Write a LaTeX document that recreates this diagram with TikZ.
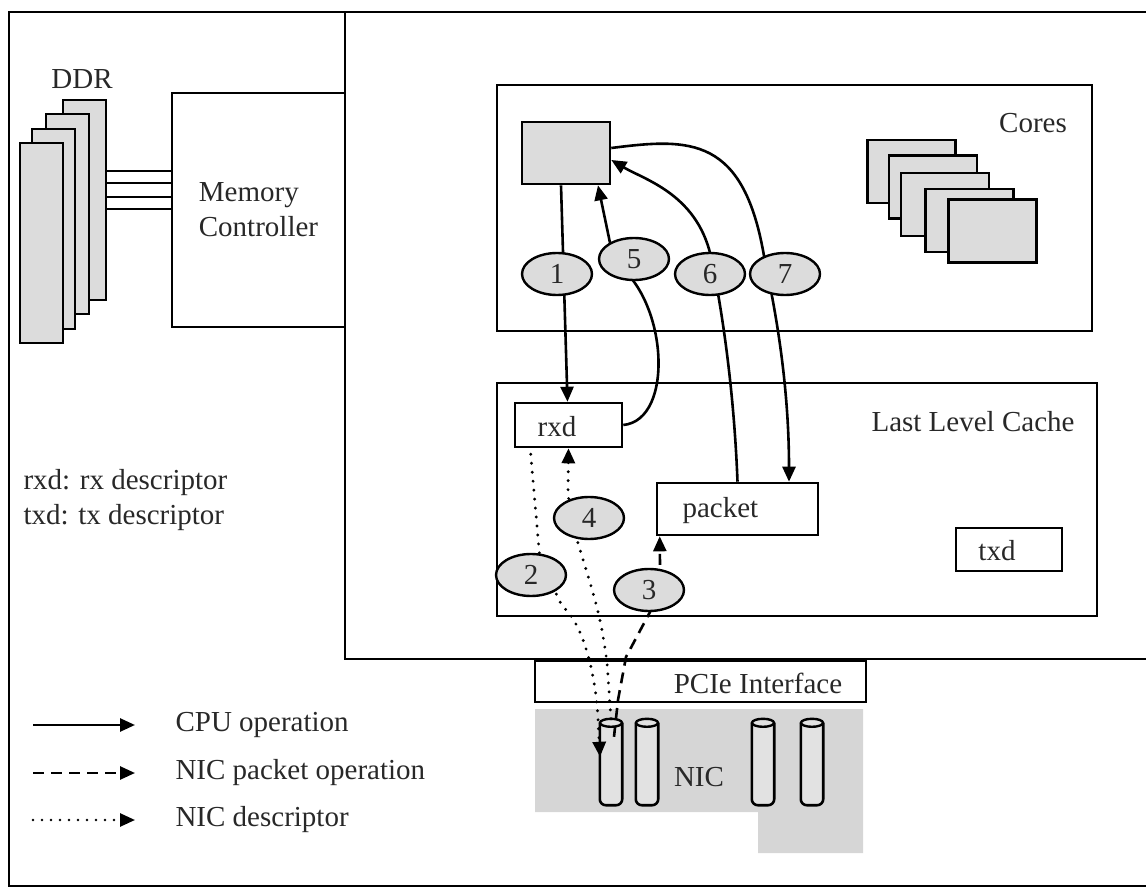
\documentclass[tikz,border=0pt]{standalone}
\usepackage{fontspec}
\setmainfont{Liberation Serif}
\usetikzlibrary{arrows.meta,shapes.geometric}
\definecolor{boxgray}{RGB}{220,220,220}
\definecolor{nicgray}{RGB}{214,214,214}
\definecolor{cylgray}{RGB}{226,226,226}
\definecolor{ink}{RGB}{40,40,40}
\pgfdeclarelayer{bgzero}
\pgfdeclarelayer{bgone}
\pgfsetlayers{bgzero,bgone,main}
\tikzset{
  frameline/.style={line width=2.6pt},
  box/.style={draw, line width=2.6pt, inner sep=0pt},
  gbox/.style={box, fill=boxgray},
  num/.style={ellipse, draw, line width=2.4pt, fill=boxgray, minimum width=70pt, minimum height=42pt, inner sep=0pt},
  tipend/.style={-{Triangle[length=15pt,width=13pt]}},
  cpu/.style={line width=2.6pt, tipend},
  pkt/.style={line width=2.6pt, dash pattern=on 11pt off 7pt, tipend},
  desc/.style={line width=3.2pt, dash pattern=on 0pt off 9pt, line cap=round, tipend},
  cylbody/.style={draw, line width=2.6pt, fill=cylgray, rounded corners=6pt},
}
\begin{document}
\begin{tikzpicture}[x=1pt,y=-1pt,font=\fontsize{29}{35}\selectfont,text=ink]
\useasboundingbox (0,0) rectangle (1146,890);
% frames
\draw[frameline] (1146,12) -- (9,12) -- (9,886) -- (1146,886);
\draw[frameline] (345,12) -- (345,659) -- (1146,659);
% memory controller and DDR
\node[box, minimum width=173pt, minimum height=234pt, align=left] (mc) at (258.5,210) {Memory\\Controller};
\node[gbox, line width=2pt, minimum width=43pt, minimum height=200pt] (d4) at (84.5,200) {};
\node[gbox, line width=2pt, minimum width=43pt, minimum height=200pt] (d3) at (67,214) {};
\node[gbox, line width=2pt, minimum width=43pt, minimum height=200pt] (d2) at (53,229.5) {};
\node[gbox, line width=2pt, minimum width=43pt, minimum height=200pt] (d1) at (41.5,243.5) {};
\node (ddrlab) at (82,79) {DDR};
\foreach \yy in {171,183,197,209}{
  \draw[line width=2.6pt] (d4.east |- 0,\yy) -- (mc.west |- 0,\yy);
}
\node[anchor=west, align=left] (abbr) at (20,500) {rxd: rx descriptor\\txd: tx descriptor};
% cores
\node[box, minimum width=595pt, minimum height=246pt] (cores) at (794.5,208) {};
\node (coreslab) at (1033,123) {Cores};
\node[gbox, minimum width=88pt, minimum height=62pt] (core) at (566,153) {};
\node[gbox, minimum width=88pt, minimum height=63pt] (s1) at (911.5,171.5) {};
\node[gbox, minimum width=88pt, minimum height=63pt] (s2) at (933,187) {};
\node[gbox, minimum width=88pt, minimum height=63pt] (s3) at (945,204.5) {};
\node[gbox, minimum width=88pt, minimum height=63pt] (s4) at (969.5,220.5) {};
\node[gbox, minimum width=88pt, minimum height=63pt] (s5) at (992.5,231) {};
% last level cache
\node[box, minimum width=600pt, minimum height=233pt] (llc) at (797,499.5) {};
\node (llclab) at (973,422) {Last Level Cache};
\node[box, minimum width=107pt, minimum height=44pt] (rxd) at (568.5,425) {};
\node (rxdlab) at (557,427) {rxd};
\node[box, minimum width=161pt, minimum height=52pt] (packet) at (737.5,509) {};
\node[anchor=west] (packetlab) at (679,511) {packet};
\node[box, minimum width=106pt, minimum height=43pt] (txd) at (1009,549.5) {};
\node (txdlab) at (997,551) {txd};
% PCIe and NIC
\node[box, minimum width=331pt, minimum height=41pt] (pcie) at (700.5,681.5) {};
\node (pcielab) at (758,683) {PCIe Interface};
\begin{pgfonlayer}{bgzero}
\fill[nicgray] (535,709) -- (863,709) -- (863,853) -- (758,853) -- (758,812) -- (535,812) -- cycle;
\end{pgfonlayer}
\foreach \nm/\cx in {c1/611,c2/647,c3/763,c4/812}{
  \node[minimum width=22pt, minimum height=86pt, inner sep=0pt] (\nm) at (\cx,762) {};
  \begin{pgfonlayer}{bgzero}
  \draw[cylbody] ([yshift=-4pt]\nm.north west) -- (\nm.south west) -- (\nm.south east) -- ([yshift=-4pt]\nm.north east);
  \draw[line width=2.4pt, fill=cylgray] ([yshift=-4pt]\nm.north) ellipse [x radius=11pt, y radius=4pt];
  \end{pgfonlayer}
}
\node (niclab) at (699,777) {NIC};
% numbered ellipses
\node[num] (e1) at (557,274) {1};
\node[num] (e5) at (634,259) {5};
\node[num] (e6) at (710,274) {6};
\node[num] (e7) at (785,274) {7};
\node[num] (e4) at (589,518) {4};
\node[num] (e2) at (531,575) {2};
\node[num] (e3) at (649,590) {3};
% connectors
\begin{pgfonlayer}{bgone}
\draw[cpu] ([xshift=-5pt]core.south) -- ([xshift=-1pt]rxd.north);
\draw[cpu] (rxd.east) .. controls (675,420) and (668,298) .. (614,262) -- ([xshift=32pt]core.south);
\draw[cpu] (packet.north) .. controls (734,390) and (722,310) .. (712,262) .. controls (700,195) and (645,180) .. ([yshift=-7pt]core.east);
\draw[cpu] ([yshift=5pt]core.east) .. controls (690,138) and (745,135) .. (765,262) .. controls (780,330) and (789,400) .. ([xshift=51.5pt]packet.north);
\draw[desc] ([xshift=17pt,yshift=-6pt]rxd.south west) -- (540,560) -- (562,606) .. controls (585,625) and (596,680) .. (598,718) -- ([xshift=-11pt,yshift=-38pt]c1.north);
\draw[desc] (c1.north) -- (607,662) .. controls (600,615) .. (577,540) -- (568,495) -- (rxd.south);
\draw[pkt] ([xshift=3pt,yshift=-18pt]c1.north) -- (618,700) -- (626,657) -- (650,612) -- (660,565) -- ([xshift=4pt]packet.south west);
\end{pgfonlayer}
% legend
\coordinate (l1a) at (33,725); \coordinate (l1b) at (135,725);
\coordinate (l2a) at (33,773); \coordinate (l2b) at (135,773);
\coordinate (l3a) at (33,820); \coordinate (l3b) at (135,820);
\draw[cpu] (l1a) -- (l1b);
\draw[pkt] (l2a) -- (l2b);
\draw[desc, line width=2.6pt] (l3a) -- (l3b);
\node[anchor=west] (t1) at (172,725) {CPU operation};
\node[anchor=west] (t2) at (172,773) {NIC packet operation};
\node[anchor=west] (t3) at (172,820) {NIC descriptor};
\end{tikzpicture}
\end{document}
